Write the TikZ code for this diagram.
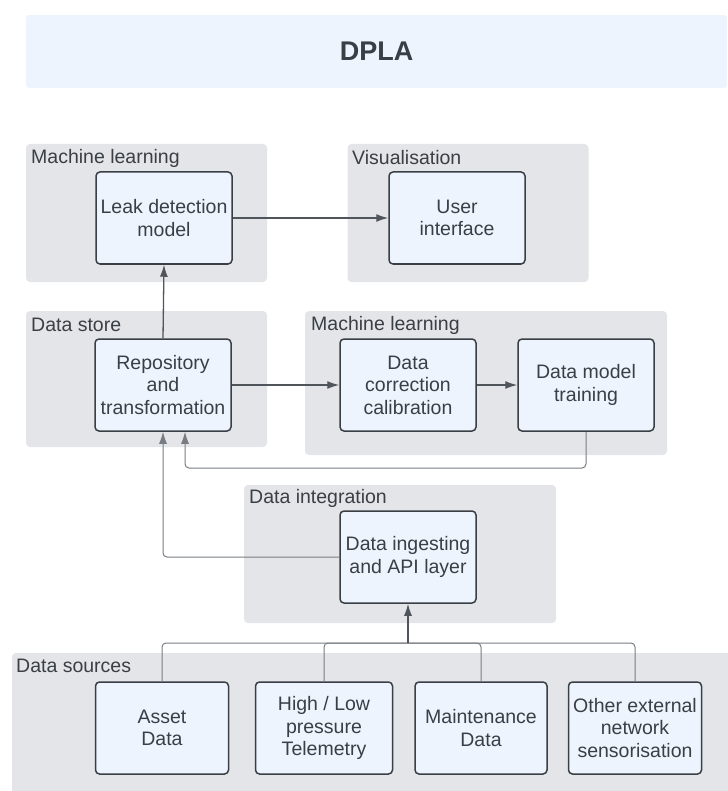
\documentclass[tikz,border=0pt]{standalone}
\usepackage{fontspec}
\setmainfont{Liberation Sans}
\usetikzlibrary{arrows.meta}
\definecolor{groupgray}{RGB}{227,229,232}
\definecolor{boxblue}{RGB}{238,244,253}
\definecolor{titleblue}{RGB}{237,244,253}
\definecolor{ink}{RGB}{58,63,70}
\definecolor{wire}{RGB}{80,85,92}
\definecolor{thinwire}{RGB}{120,125,131}
\tikzset{
  titleband/.style={fill=titleblue, rounded corners=3pt, inner sep=0pt, text=ink, font=\fontsize{27}{30}\selectfont\bfseries},
  group/.style={fill=groupgray, rounded corners=4pt, inner sep=0pt},
  grouplabel/.style={anchor=west, inner sep=0pt, text=ink, font=\fontsize{19.5}{22}\selectfont},
  box/.style={draw=ink, fill=boxblue, line width=1.5pt, rounded corners=4pt, minimum width=136pt, minimum height=92pt, inner sep=2pt, align=center, text=ink, font=\fontsize{19.5}{22.5}\selectfont},
  arr/.style={-{Latex[length=12pt,width=8pt]}, draw=wire, line width=1.3pt},
  thinarr/.style={-{Latex[length=12pt,width=8pt]}, draw=thinwire, line width=1pt, rounded corners=4pt},
  link/.style={draw=thinwire, line width=1pt, rounded corners=4pt},
}
\begin{document}
\begin{tikzpicture}[x=1pt,y=-1pt]
  \useasboundingbox (0,0) rectangle (727,791);
  \node[titleband, minimum width=701pt, minimum height=73pt] (title) at (376.5,51.5) {DPLA};

  \node[group, minimum width=241pt, minimum height=138pt] (mlA) at (146.5,213) {};
  \node[group, minimum width=241pt, minimum height=138pt] (vis) at (468,213) {};
  \node[group, minimum width=241pt, minimum height=136pt] (store) at (146.5,379) {};
  \node[group, minimum width=362pt, minimum height=144pt] (mlB) at (486,383) {};
  \node[group, minimum width=312pt, minimum height=138pt] (integ) at (400,554) {};
  \node[group, minimum width=730pt, minimum height=148pt] (sources) at (377,727) {};

  \node[grouplabel] (mlAlabel) at (31,158) {Machine learning};
  \node[grouplabel] (vislabel) at (352,158) {Visualisation};
  \node[grouplabel] (storelabel) at (31,325) {Data store};
  \node[grouplabel] (mlBlabel) at (311,325) {Machine learning};
  \node[grouplabel] (integlabel) at (249,498) {Data integration};
  \node[grouplabel] (sourceslabel) at (16,666) {Data sources};

  \node[box] (leak) at (164,218) {Leak detection\\model};
  \node[box] (user) at (457,218) {User\\interface};
  \node[box] (repo) at (163,385) {Repository\\and\\transformation};
  \node[box] (corr) at (408,385) {Data\\correction\\calibration};
  \node[box] (train) at (586,385) {Data model\\training};
  \node[box] (ingest) at (408,557) {Data ingesting\\and API layer};
  \node[box, minimum width=133pt] (asset) at (162,728) {Asset\\Data};
  \node[box, minimum width=137pt] (telem) at (324,728) {High / Low\\pressure\\Telemetry};
  \node[box, minimum width=132pt] (maint) at (481,728) {Maintenance\\Data};
  \node[box, minimum width=133pt] (other) at (635,728) {Other external\\network\\sensorisation};

  \coordinate (loop) at (0,468);
  \coordinate (bus) at (408,643);

  \draw[arr] (leak.east) -- (user.west);
  \draw[arr] (repo.north) -- (leak.south);
  \draw[arr] (repo.east) -- (corr.west);
  \draw[arr] (corr.east) -- (train.west);
  \draw[thinarr] (train.south) -- (train.south |- loop) -| ([xshift=22pt]repo.south);
  \draw[thinarr] (ingest.west) -| (repo.south);
  \draw[link] (asset.north) |- (bus);
  \draw[link] (telem.north) |- (bus);
  \draw[link] (maint.north) |- (bus);
  \draw[link] (other.north) |- (bus);
  \draw[arr] (bus) -- (ingest.south);
\end{tikzpicture}
\end{document}
